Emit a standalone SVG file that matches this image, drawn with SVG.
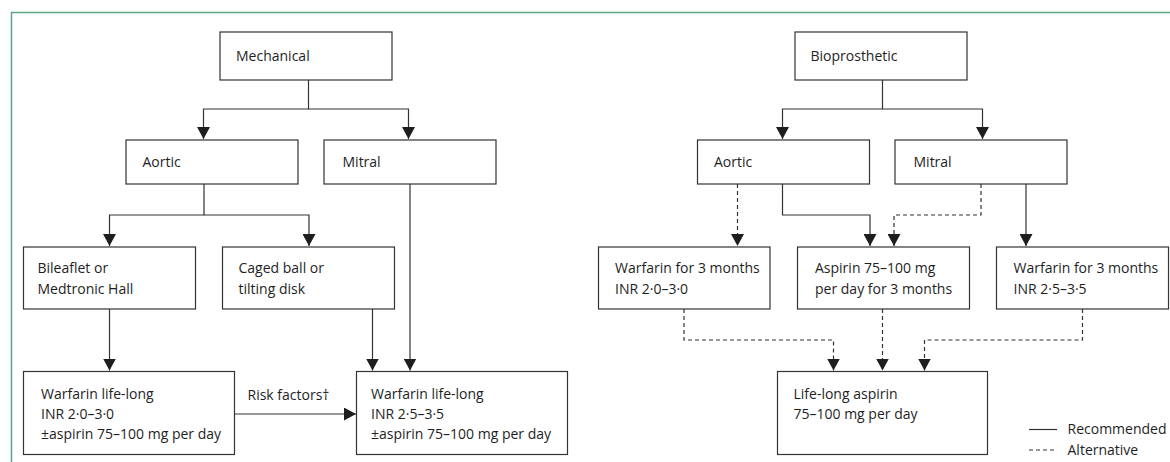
<svg xmlns="http://www.w3.org/2000/svg" width="1170" height="462" viewBox="0 0 1170 462">
<style>
.box{fill:#fff;stroke:#333;stroke-width:1.2}
.t{font-family:"Open Sans","Noto Sans",sans-serif;font-size:14px;fill:#1e1e1e}
.c{fill:none;stroke:#333;stroke-width:1.2}
.d{fill:none;stroke:#333;stroke-width:1.2;stroke-dasharray:4 3}
</style>
<defs>
<marker id="ah" markerUnits="userSpaceOnUse" markerWidth="13" markerHeight="13" refX="12" refY="6.5" orient="auto" viewBox="0 0 13 13">
<path d="M0,0 L12,6.5 L0,13 Z" fill="#1e1e1e"/>
</marker>
</defs>
<rect x="0" y="0" width="1170" height="462" fill="#fff"/>
<path d="M11.5,462 V12.5 H1170" fill="none" stroke="#5ba784" stroke-width="1.5"/>
<g id="connectors">
<path class="c" d="M308.5,80 V109 H203.5 V139" marker-end="url(#ah)"/>
<path class="c" d="M308.5,109 H408.5 V139" marker-end="url(#ah)"/>
<path class="c" d="M204,184 V215 H109.5 V246" marker-end="url(#ah)"/>
<path class="c" d="M204,215 H309 V246" marker-end="url(#ah)"/>
<path class="c" d="M410,184 V370.5" marker-end="url(#ah)"/>
<path class="c" d="M109.5,309 V370.5" marker-end="url(#ah)"/>
<path class="c" d="M372.5,309 V370.5" marker-end="url(#ah)"/>
<path class="c" d="M234.5,414 H356" marker-end="url(#ah)"/>
<path class="c" d="M882.5,80 V109 H782.5 V139" marker-end="url(#ah)"/>
<path class="c" d="M882.5,109 H982.5 V139" marker-end="url(#ah)"/>
<path class="d" d="M737.5,184 V246" marker-end="url(#ah)"/>
<path class="c" d="M782.5,184 V215 H870 V246" marker-end="url(#ah)"/>
<path class="d" d="M981,184 V215 H894 V246" marker-end="url(#ah)"/>
<path class="c" d="M1026,184 V246" marker-end="url(#ah)"/>
<path class="d" d="M684,309 V340 H833.5 V370.5" marker-end="url(#ah)"/>
<path class="d" d="M882.5,309 V370.5" marker-end="url(#ah)"/>
<path class="d" d="M1082.5,309 V340 H924.5 V370.5" marker-end="url(#ah)"/>
</g>
<g id="mechanical"><rect class="box" x="220" y="32" width="172" height="48"/><text class="t" x="236" y="61">Mechanical</text></g>
<g id="aortic-l"><rect class="box" x="126" y="140" width="172" height="44"/><text class="t" x="142.5" y="167">Aortic</text></g>
<g id="mitral-l"><rect class="box" x="324" y="140" width="172" height="44"/><text class="t" x="342.5" y="167">Mitral</text></g>
<g id="bileaflet"><rect class="box" x="23.5" y="247" width="172" height="62"/><text class="t" x="37.5" y="273">Bileaflet or</text><text class="t" x="37.5" y="293.5">Medtronic Hall</text></g>
<g id="caged"><rect class="box" x="222.5" y="247" width="172" height="62"/><text class="t" x="238.5" y="273">Caged ball or</text><text class="t" x="238.5" y="293.5">tilting disk</text></g>
<g id="warf-ll-1"><rect class="box" x="23.5" y="371.5" width="211" height="83"/><text class="t" x="41" y="398.5">Warfarin life-long</text><text class="t" x="41" y="418.5">INR 2·0–3·0</text><text class="t" x="41" y="438.5">±aspirin 75–100 mg per day</text></g>
<text class="t" x="247.5" y="400">Risk factors†</text>
<g id="warf-ll-2"><rect class="box" x="356.5" y="371.5" width="211" height="83"/><text class="t" x="371" y="398.5">Warfarin life-long</text><text class="t" x="371" y="418.5">INR 2·5–3·5</text><text class="t" x="371" y="438.5">±aspirin 75–100 mg per day</text></g>
<g id="bioprosthetic"><rect class="box" x="795" y="32" width="172" height="48"/><text class="t" x="810.5" y="61">Bioprosthetic</text></g>
<g id="aortic-r"><rect class="box" x="697.5" y="140" width="172" height="44"/><text class="t" x="714" y="167">Aortic</text></g>
<g id="mitral-r"><rect class="box" x="895" y="140" width="172" height="44"/><text class="t" x="913.5" y="167">Mitral</text></g>
<g id="warf-3m-1"><rect class="box" x="598.5" y="247" width="171.5" height="62"/><text class="t" x="615" y="273">Warfarin for 3 months</text><text class="t" x="615" y="293.5">INR 2·0–3·0</text></g>
<g id="aspirin-3m"><rect class="box" x="797.5" y="247" width="172" height="62"/><text class="t" x="815" y="273">Aspirin 75–100 mg</text><text class="t" x="815" y="293.5">per day for 3 months</text></g>
<g id="warf-3m-2"><rect class="box" x="996.5" y="247" width="172" height="62"/><text class="t" x="1013.5" y="273">Warfarin for 3 months</text><text class="t" x="1013.5" y="293.5">INR 2·5–3·5</text></g>
<g id="lifelong-aspirin"><rect class="box" x="777.5" y="371.5" width="210" height="83"/><text class="t" x="793.5" y="398.5">Life-long aspirin</text><text class="t" x="793.5" y="418.5">75–100 mg per day</text></g>
<g id="legend">
<line class="c" x1="1029" y1="429.5" x2="1057" y2="429.5"/><text class="t" x="1067.5" y="434">Recommended</text>
<line class="d" x1="1029" y1="450" x2="1057" y2="450"/><text class="t" x="1067.5" y="455">Alternative</text>
</g>
</svg>
